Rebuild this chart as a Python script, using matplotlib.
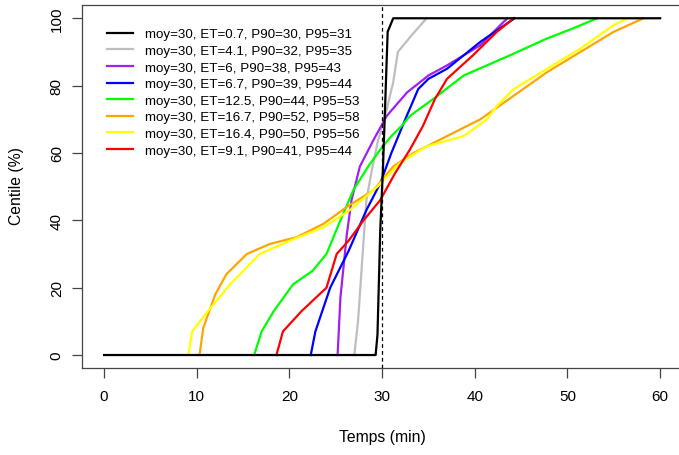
import matplotlib
matplotlib.use("Agg")
import matplotlib.pyplot as plt

plt.rcParams['font.family'] = ['Liberation Sans', 'DejaVu Sans']

labels = [
    "moy=30, ET=0.7, P90=30, P95=31",
    "moy=30, ET=4.1, P90=32, P95=35",
    "moy=30, ET=6, P90=38, P95=43",
    "moy=30, ET=6.7, P90=39, P95=44",
    "moy=30, ET=12.5, P90=44, P95=53",
    "moy=30, ET=16.7, P90=52, P95=58",
    "moy=30, ET=16.4, P90=50, P95=56",
    "moy=30, ET=9.1, P90=41, P95=44",
]
colors = ["black", "#BEBEBE", "#A020F0", "blue", "#00FF00", "#FFA500", "yellow", "red"]

black_x = [0, 29.3, 29.5, 29.8, 30.1, 30.6, 31.2, 60]
black_y = [0, 0, 6, 37, 56, 96, 100, 100]

gray_x = [27.0, 27.4, 27.8, 28.3, 28.9, 29.5, 30.0, 30.5, 31.2, 31.7, 33.2, 34.8]
gray_y = [0, 10, 26, 46, 55, 63, 68, 73, 81, 90, 95, 100]

purple_x = [25.2, 25.5, 26.2, 26.7, 27.6, 29.1, 30.5, 32.7, 35.0, 37.0, 40.6, 43.5]
purple_y = [0, 17, 36, 46, 56, 64, 71, 78, 83, 86, 92, 100]

blue_x = [22.3, 22.8, 24.4, 26.4, 28.3, 29.8, 31.0, 32.5, 33.9, 35.0, 37.0, 40.6, 44.3]
blue_y = [0, 7, 20, 31, 43, 51, 60, 70, 79, 82, 85, 93, 100]

green_x = [16.2, 17.0, 18.3, 20.4, 22.5, 24.0, 25.5, 26.9, 28.5, 29.8, 31.0, 32.1, 33.0, 35.5, 38.8, 43.8, 47.8, 50.6, 53.2]
green_y = [0, 7, 13, 21, 25, 30, 40, 49, 56, 61, 65, 68, 71, 76, 83, 89, 94, 97, 100]

orange_x = [10.3, 10.7, 12.0, 13.2, 15.4, 17.9, 20.8, 23.7, 26.2, 29.1, 31.2, 33.4, 37.0, 40.6, 44.2, 47.8, 51.4, 55.0, 58.2]
orange_y = [0, 8, 18, 24, 30, 33, 35, 39, 44, 49, 56, 60, 65, 70, 77, 84, 90, 96, 100]

yellow_x = [9.1, 9.5, 10.9, 13.6, 16.8, 20.1, 23.7, 26.5, 29.5, 31.9, 34.8, 38.8, 41.3, 42.4, 44.2, 47.8, 51.4, 55.0, 56.5]
yellow_y = [0, 7, 12, 21, 30, 34, 38, 43, 50, 57, 62, 65, 70, 74, 79, 85, 91, 98, 100]

red_x = [18.6, 19.3, 21.3, 24.0, 25.1, 26.4, 28.0, 29.8, 31.4, 33.0, 34.4, 35.7, 37.0, 39.8, 42.4, 44.2]
red_y = [0, 7, 13, 20, 30, 34, 40, 46, 54, 61, 68, 76, 82, 89, 96, 100]

series = [
    (black_x, black_y), (gray_x, gray_y), (purple_x, purple_y), (blue_x, blue_y),
    (green_x, green_y), (orange_x, orange_y), (yellow_x, yellow_y), (red_x, red_y),
]

xticks = [0, 10, 20, 30, 40, 50, 60]
yticks = [0, 20, 40, 60, 80, 100]
mean_value = 30

fig = plt.figure(figsize=(6.79, 4.56), dpi=100)
ax = fig.add_axes([0.1205, 0.1897, 0.8845, 0.7976])

handles = [None] * len(series)
order = list(range(1, len(series))) + [0]
for i in order:
    xs, ys = series[i]
    ln, = ax.plot(xs, ys, color=colors[i], lw=1.6, zorder=3 if i == 0 else 2,
                  solid_joinstyle='round')
    handles[i] = ln

ax.axvline(mean_value, color='black', lw=0.9, ls=(0, (3, 2.5)), zorder=4)

ax.set_xlim(-2.4, 62.4)
ax.set_ylim(-4, 104)
ax.set_xticks(xticks)
ax.set_yticks(yticks)
ax.set_xticklabels([str(t) for t in xticks], fontsize=11)
ax.set_yticklabels([str(t) for t in yticks], fontsize=11, rotation=90, va='center')
ax.tick_params(axis='both', direction='out', length=7, width=0.9, color='#444444', pad=8)
ax.tick_params(axis='y', pad=6)
for s in ax.spines.values():
    s.set_color('#444444')
    s.set_linewidth(0.9)

fig.text(382 / 679, 1 - 438 / 456, "Temps (min)", ha='center', va='center', fontsize=11.3)
fig.text(16.5 / 679, 1 - 186 / 456, "Centile (%)", ha='center', va='center', rotation=90, fontsize=11.3)

leg = ax.legend(handles, labels, loc='upper left', bbox_to_anchor=(0.0415, 0.936),
                frameon=False, fontsize=9.6, handlelength=2.0, handletextpad=0.87,
                labelspacing=0.32, borderpad=0, borderaxespad=0)

fig.savefig("out.png", dpi=100)
